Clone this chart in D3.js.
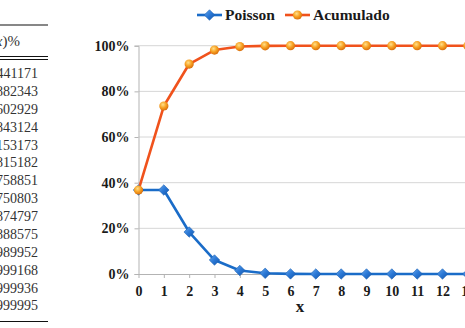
<!DOCTYPE html>
<html>
<head>
<meta charset="utf-8">
<script src="https://cdn.jsdelivr.net/npm/d3@7"></script>
<style>
  body { margin: 0; background: #fff; }
  svg { display: block; }
</style>
</head>
<body>
<script>
// x values 0..13, lambda = 1
const xs = [0, 1, 2, 3, 4, 5, 6, 7, 8, 9, 10, 11, 12, 13];
const poisson = [0.3679, 0.3679, 0.1839, 0.0613, 0.0153, 0.0031, 0.0005, 0.0001, 0.0000, 0.0000, 0.0000, 0.0000, 0.0000, 0.0000];
const acumulado = [0.3679, 0.7358, 0.9197, 0.9810, 0.9963, 0.9994, 0.9999, 1.0000, 1.0000, 1.0000, 1.0000, 1.0000, 1.0000, 1.0000];
const yTicks = [0, 0.2, 0.4, 0.6, 0.8, 1.0];
// left table column (mostly cut off by the frame)
const tableRows = ['36.7879441171', '73.5758882343', '91.9698602929', '98.1011843124', '99.6340153173',
  '99.9405815182', '99.9916758851', '99.9989750803', '99.9998874797', '99.9999888575',
  '99.9999989952', '99.9999999168', '99.9999999936', '99.9999999995'];

const width = 465, height = 328;
const serif = '"Liberation Serif", "Times New Roman", serif';

const svg = d3.select('body')
  .append('svg')
  .attr('width', width)
  .attr('height', height);

const defs = svg.append('defs');
const og = defs.append('radialGradient').attr('id', 'ball').attr('cx', '40%').attr('cy', '35%').attr('r', '65%');
og.append('stop').attr('offset', '0%').attr('stop-color', '#ffe08a');
og.append('stop').attr('offset', '55%').attr('stop-color', '#f7a021');
og.append('stop').attr('offset', '100%').attr('stop-color', '#d9700e');
const bg = defs.append('linearGradient').attr('id', 'gem').attr('x1', 0).attr('y1', 0).attr('x2', 1).attr('y2', 1);
bg.append('stop').attr('offset', '0%').attr('stop-color', '#6aa8ec');
bg.append('stop').attr('offset', '50%').attr('stop-color', '#2a78d6');
bg.append('stop').attr('offset', '100%').attr('stop-color', '#1455a8');

// ---- table on the left ----
const table = svg.append('g').attr('font-family', serif);
table.append('line').attr('x1', 0).attr('x2', 48).attr('y1', 25).attr('y2', 25)
  .attr('stroke', '#111').attr('stroke-width', 1.2);
table.append('line').attr('x1', 0).attr('x2', 48).attr('y1', 56.5).attr('y2', 56.5)
  .attr('stroke', '#111').attr('stroke-width', 1);
table.append('line').attr('x1', 0).attr('x2', 48).attr('y1', 59.5).attr('y2', 59.5)
  .attr('stroke', '#111').attr('stroke-width', 1);
table.append('line').attr('x1', 0).attr('x2', 48).attr('y1', 321.5).attr('y2', 321.5)
  .attr('stroke', '#111').attr('stroke-width', 1.2);

const head = table.append('text')
  .attr('x', 20).attr('y', 46)
  .attr('text-anchor', 'end')
  .attr('font-size', 15)
  .attr('fill', '#333');
head.append('tspan').text('P(X ≤ ');
head.append('tspan').attr('font-style', 'italic').text('x');
head.append('tspan').text(')%');

table.selectAll('text.row')
  .data(tableRows)
  .enter()
  .append('text')
  .attr('class', 'row')
  .attr('x', 38)
  .attr('y', (d, i) => 78 + i * 17.88)
  .attr('text-anchor', 'end')
  .attr('font-size', 14)
  .attr('fill', '#333')
  .text(d => d);

// ---- chart ----
const x = d3.scaleLinear().domain([0, 12]).range([138.5, 442.5]);
const y = d3.scaleLinear().domain([0, 1]).range([274, 45.7]);

const chart = svg.append('g');

chart.append('g')
  .selectAll('line')
  .data(yTicks.filter(d => d > 0))
  .enter()
  .append('line')
  .attr('x1', x(0)).attr('x2', width + 20)
  .attr('y1', d => y(d)).attr('y2', d => y(d))
  .attr('stroke', '#d6d6d6')
  .attr('stroke-width', 1);

const yAxis = chart.append('g')
  .attr('transform', `translate(${x(0)}, 0)`)
  .call(d3.axisLeft(y).tickValues(yTicks).tickFormat(d3.format('.0%')).tickSize(4).tickPadding(5));

const xAxis = chart.append('g')
  .attr('transform', `translate(0, ${y(0)})`)
  .call(d3.axisBottom(x).tickValues(xs).tickFormat(d3.format('d')).tickSize(4).tickPadding(8));

[yAxis, xAxis].forEach(ax => {
  ax.select('.domain').attr('stroke', '#b3b3b3');
  ax.selectAll('.tick line').attr('stroke', '#b3b3b3');
  ax.selectAll('.tick text')
    .attr('font-family', serif)
    .attr('font-weight', 'bold')
    .attr('font-size', 14)
    .attr('fill', '#1a1a1a');
});
xAxis.select('.domain').attr('d', `M${x(0)},0.5H${width + 20}`);

chart.append('text')
  .attr('x', 300).attr('y', 312)
  .attr('text-anchor', 'middle')
  .attr('font-family', serif)
  .attr('font-weight', 'bold')
  .attr('font-size', 17)
  .attr('fill', '#1a1a1a')
  .text('x');

const line = d3.line()
  .x((d, i) => x(xs[i]))
  .y(d => y(d));

chart.append('path')
  .datum(poisson)
  .attr('fill', 'none')
  .attr('stroke', '#1a6cc8')
  .attr('stroke-width', 2.6)
  .attr('stroke-linejoin', 'round')
  .attr('d', line);

chart.append('path')
  .datum(acumulado)
  .attr('fill', 'none')
  .attr('stroke', '#f0521c')
  .attr('stroke-width', 2.6)
  .attr('stroke-linejoin', 'round')
  .attr('d', line);

const diamond = d3.symbol().type(d3.symbolDiamond2).size(70);

chart.append('g')
  .selectAll('path')
  .data(poisson)
  .enter()
  .append('path')
  .attr('transform', (d, i) => `translate(${x(xs[i])}, ${y(d)})`)
  .attr('d', diamond)
  .attr('fill', 'url(#gem)')
  .attr('stroke', '#1a5fb4')
  .attr('stroke-width', 0.6);

chart.append('g')
  .selectAll('circle')
  .data(acumulado)
  .enter()
  .append('circle')
  .attr('cx', (d, i) => x(xs[i]))
  .attr('cy', d => y(d))
  .attr('r', 4.6)
  .attr('fill', 'url(#ball)');

// ---- legend ----
const legend = svg.append('g')
  .attr('font-family', serif)
  .attr('font-weight', 'bold')
  .attr('font-size', 15.5)
  .attr('fill', '#1a1a1a');

legend.append('line').attr('x1', 197).attr('x2', 222).attr('y1', 15).attr('y2', 15)
  .attr('stroke', '#1a6cc8').attr('stroke-width', 2.6);
legend.append('path').attr('transform', 'translate(209.5, 15)').attr('d', diamond)
  .attr('fill', 'url(#gem)').attr('stroke', '#1a5fb4').attr('stroke-width', 0.6);
legend.append('text').attr('x', 225).attr('y', 20).text('Poisson');

legend.append('line').attr('x1', 285).attr('x2', 310).attr('y1', 15).attr('y2', 15)
  .attr('stroke', '#f0521c').attr('stroke-width', 2.6);
legend.append('circle').attr('cx', 297.5).attr('cy', 15).attr('r', 4.6).attr('fill', 'url(#ball)');
legend.append('text').attr('x', 313).attr('y', 20).text('Acumulado');
</script>
</body>
</html>
